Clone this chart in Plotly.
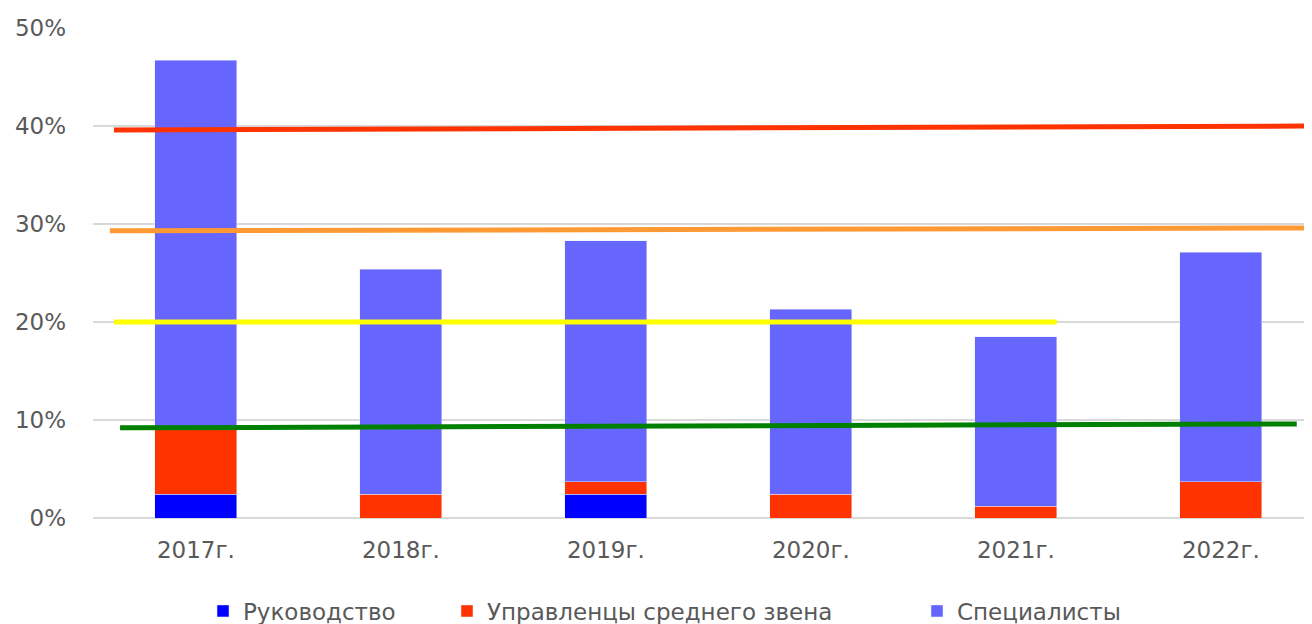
import plotly.graph_objects as go

years = ["2017г.", "2018г.", "2019г.", "2020г.", "2021г.", "2022г."]
x_pos = [0, 1, 2, 3, 4, 5]
management = [0.024, 0.0, 0.024, 0.0, 0.0, 0.0]
middle = [0.068, 0.024, 0.013, 0.024, 0.012, 0.037]
specialists = [0.375, 0.230, 0.246, 0.189, 0.173, 0.234]

# reference lines: (x start, x end), (y start, y end)
red_x = [-0.4, 5.5]; red_y = [0.396, 0.400]
orange_x = [-0.42, 5.5]; orange_y = [0.293, 0.296]
yellow_x = [-0.4, 4.2]; yellow_y = [0.200, 0.200]
green_x = [-0.37, 5.37]; green_y = [0.092, 0.096]

FONT = "DejaVu Sans"
GRAY = "#595959"
FS = 23

fig = go.Figure()
fig.add_trace(go.Bar(x=x_pos, y=management, name="Руководство", marker_color="#0000FF",
                     width=0.4, legendwidth=199))
fig.add_trace(go.Bar(x=x_pos, y=middle, name="Управленцы среднего звена", marker_color="#FF3300",
                     width=0.4, legendwidth=425))
fig.add_trace(go.Bar(x=x_pos, y=specialists, name="Специалисты", marker_color="#6666FF",
                     width=0.4, legendwidth=181))

for xs, ys, col in [(red_x, red_y, "#FF3300"), (orange_x, orange_y, "#FF9933"),
                    (yellow_x, yellow_y, "#FFFF00"), (green_x, green_y, "#008000")]:
    fig.add_trace(go.Scatter(x=xs, y=ys, mode="lines", line=dict(color=col, width=5),
                             showlegend=False, hoverinfo="skip"))

fig.update_layout(
    barmode="stack",
    width=1312, height=624,
    margin=dict(l=85, r=0, t=20, b=114, autoexpand=False),
    plot_bgcolor="white", paper_bgcolor="white",
    font=dict(family=FONT, size=FS, color=GRAY),
    showlegend=True,
    legend=dict(orientation="h", x=195 / 1312, xref="container", xanchor="left",
                y=21 / 624, yref="container", yanchor="middle",
                font=dict(family=FONT, size=FS, color=GRAY), traceorder="normal",
                itemwidth=30),
    xaxis=dict(range=[-0.502, -0.502 + 1227 / 205], tickmode="array", tickvals=x_pos,
               ticktext=years, showgrid=False, zeroline=False, showline=False, ticks="",
               automargin=False,
               ticklabelstandoff=16, tickfont=dict(family=FONT, size=FS, color=GRAY)),
    yaxis=dict(range=[0, 0.5], tickvals=[0, 0.1, 0.2, 0.3, 0.4, 0.5], tickformat=".0%",
               showgrid=True, gridcolor="#D9D9D9", gridwidth=1.5, zeroline=True,
               zerolinecolor="#D9D9D9", zerolinewidth=1.5, showline=False, ticks="",
               automargin=False,
               ticklabelstandoff=26, tickfont=dict(family=FONT, size=FS, color=GRAY)),
)

fig.write_html("out.html")
